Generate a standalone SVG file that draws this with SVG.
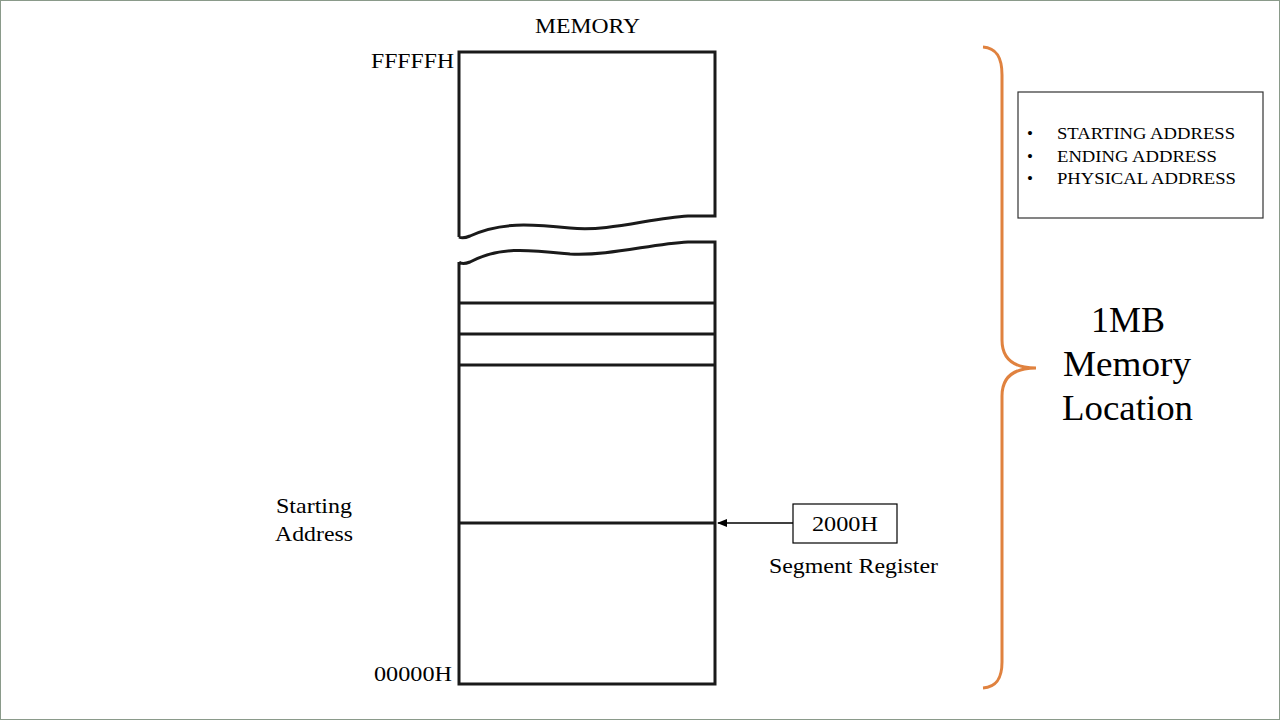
<svg xmlns="http://www.w3.org/2000/svg" width="1280" height="720" viewBox="0 0 1280 720">
<style>
.t{font-family:"Liberation Serif",serif;fill:#000}
.ln{fill:none;stroke:#1a1a1a;stroke-width:3}
</style>
<defs><marker id="ah" markerWidth="10" markerHeight="8" refX="9" refY="4" orient="auto" markerUnits="userSpaceOnUse"><path d="M0,0 L10,4 L0,8 z" fill="#000"/></marker></defs>
<rect x="0.5" y="0.5" width="1279" height="719" fill="#fff" stroke="#8a9a8a"/>
<g id="memory">
<text class="t" x="535" y="33" font-size="21" textLength="105" lengthAdjust="spacingAndGlyphs">MEMORY</text>
<path class="ln" d="M459,237 L459,52 L715,52 L715,216 L688,216 C650,218 610,232 570,228 C530,224 500,222 470,236 C465,238 461,238 459,237"/>
<path class="ln" d="M459,262 L459,684 L715,684 L715,242 L688,242 C650,244 610,256 570,254 C530,250 500,246 470,262 C465,264 461,264 459,262"/>
<line class="ln" x1="459" y1="303" x2="715" y2="303"/>
<line class="ln" x1="459" y1="334" x2="715" y2="334"/>
<line class="ln" x1="459" y1="365" x2="715" y2="365"/>
<line class="ln" x1="459" y1="523" x2="715" y2="523"/>
<text class="t" x="371" y="68" font-size="21" textLength="83" lengthAdjust="spacingAndGlyphs">FFFFFH</text>
<text class="t" x="374" y="681" font-size="21" textLength="78" lengthAdjust="spacingAndGlyphs">00000H</text>
<text class="t" x="276" y="513" font-size="21" textLength="76" lengthAdjust="spacingAndGlyphs">Starting</text>
<text class="t" x="275" y="541" font-size="21" textLength="78" lengthAdjust="spacingAndGlyphs">Address</text>
</g>
<g id="segreg">
<rect x="793" y="504" width="104" height="39" fill="#fff" stroke="#000" stroke-width="1.2"/>
<text class="t" x="812" y="531" font-size="21" textLength="66" lengthAdjust="spacingAndGlyphs">2000H</text>
<text class="t" x="769" y="573" font-size="21" textLength="169" lengthAdjust="spacingAndGlyphs">Segment Register</text>
</g>
<g id="connectors">
<line x1="793" y1="523" x2="718" y2="523" stroke="#000" stroke-width="1.3" marker-end="url(#ah)"/>
</g>
<g id="brace">
<path d="M983,47 C997,48 1002,58 1002,75 L1002,340 C1002,358 1012,368 1036,368 C1012,368 1002,378 1002,396 L1002,662 C1002,678 997,687 983,688" fill="none" stroke="#e0823f" stroke-width="3"/>
<text class="t" x="1128" y="332" font-size="36" text-anchor="middle">1MB</text>
<text class="t" x="1063" y="376" font-size="36" textLength="128" lengthAdjust="spacingAndGlyphs">Memory</text>
<text class="t" x="1062" y="420" font-size="36" textLength="131" lengthAdjust="spacingAndGlyphs">Location</text>
</g>
<g id="notes">
<rect x="1018" y="92" width="245" height="126" fill="#fff" stroke="#333" stroke-width="1.2"/>
<g class="t" font-size="17">
<text x="1027" y="139">•</text><text x="1057" y="139" textLength="178" lengthAdjust="spacingAndGlyphs">STARTING ADDRESS</text>
<text x="1027" y="162">•</text><text x="1057" y="162" textLength="160" lengthAdjust="spacingAndGlyphs">ENDING ADDRESS</text>
<text x="1027" y="184">•</text><text x="1057" y="184" textLength="179" lengthAdjust="spacingAndGlyphs">PHYSICAL ADDRESS</text>
</g>
</g>
</svg>
